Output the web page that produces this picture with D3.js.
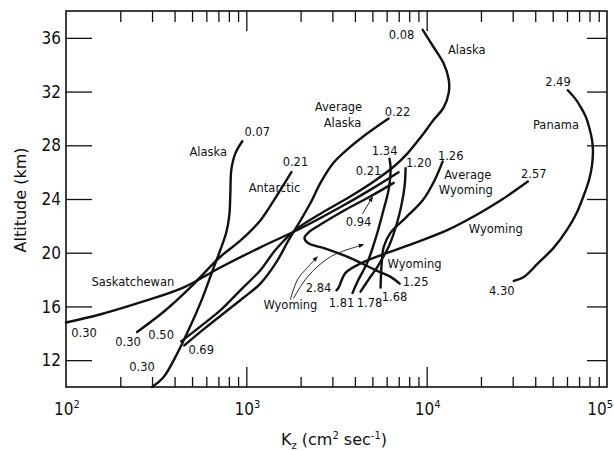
<!DOCTYPE html>
<html>
<head>
<meta charset="utf-8">
<script src="https://cdn.jsdelivr.net/npm/d3@7"></script>
<style>
body { margin: 0; background: #fff; }
text { fill: #111; }
.lbl { font-family: "DejaVu Sans", sans-serif; font-size: 11.5px; }
.num { font-family: "DejaVu Sans Condensed", "Liberation Sans Narrow", sans-serif; font-size: 17px; }
.title { font-family: "DejaVu Sans", sans-serif; font-size: 16px; }
</style>
</head>
<body>
<svg id="chart" width="614" height="451"></svg>
<script>
// curves: [K (cm2/s), altitude (km)]
var alaska007 = [[950,28.3],[869,27.4],[826,26.2],[815,24.3],[805,22.8],[774,21.5],[717,20.2],[647,18.6],[570,16.6],[488,14.5],[414,12.5],[346,10.7],[300,10.0]];
var antarctic = [[1778,26.0],[1468,24.2],[1196,22.4],[926,20.9],[717,19.7],[488,17.4],[355,15.7],[248,14.1]];
var saskatchewan = [[100,14.8],[154,15.4],[258,16.3],[447,17.4],[717,18.9],[1196,20.4],[1995,21.8],[3329,23.4],[4887,24.7],[6982,26.0]];
var avgAlaska = [[6152,30.0],[4699,28.9],[3785,27.9],[3043,26.7],[2577,25.2],[2268,23.7],[1995,22.4],[1710,20.9],[1468,19.3],[1196,17.7],[975,16.7],[784,15.7],[592,14.4],[453,13.1]];
var alaska008 = [[9506,36.6],[10940,35.3],[12410,34.1],[13250,32.9],[13250,31.9],[12410,30.8],[10940,29.9],[9268,28.6],[7834,27.4],[6561,26.4],[5209,25.4],[3785,24.2],[2577,22.9],[1872,21.7],[1449,20.2],[1196,18.7],[926,17.2],[717,15.7],[555,14.5],[435,13.4]];
var wyoLoop = [[6561,25.2],[4887,24.2],[3548,23.2],[2577,22.1],[2208,21.5],[2100,21.1],[2208,20.7],[2747,20.3],[3785,19.6],[5209,18.7],[6310,18.2],[7079,17.7]];
var wyo134 = [[6223,27.0],[6310,26.3],[6152,24.7],[5768,23.2],[5277,21.3],[4699,19.3],[4188,18.0],[3880,17.0]];
var wyo120 = [[7641,26.3],[7551,25.0],[7261,23.6],[6808,22.1],[6223,20.6],[5415,19.1],[4762,18.0],[4299,17.1]];
var avgWyoming = [[12270,26.8],[11070,25.4],[9506,23.9],[7641,22.6],[6310,21.5],[5768,20.4],[5623,19.1],[5550,17.4]];
var wyo257 = [[36390,25.3],[25770,23.9],[19950,23.0],[13090,21.7],[8472,20.7],[6067,20.0],[4299,19.2],[3548,18.5],[3248,17.4],[3162,17.2]];
var panama = [[60670,32.1],[67300,31.4],[71780,30.8],[76380,30.1],[79430,29.4],[82600,28.4],[83560,27.6],[82600,26.5],[79430,25.4],[74470,24.3],[68080,23.0],[59970,21.7],[50820,20.4],[41400,19.2],[34590,18.2],[30410,17.9]];
var curves = [alaska007, antarctic, saskatchewan, avgAlaska, alaska008, wyoLoop, wyo134, wyo120, avgWyoming, wyo257, panama];

// thin pointer arrows
var arrow094 = [[4406,22.9],[5012,24.15]];
var arrowWyoA = [[1755,16.5],[1923,18.0],[2183,18.9],[2477,19.7]];
var arrowWyoB = [[1826,16.6],[2183,18.2],[2929,19.7],[4467,20.6]];
var arrows = [arrow094, arrowWyoA, arrowWyoB];

// labels
var labelText = ["0.07","Alaska","0.21","Antarctic","Average","Alaska","0.22","0.08","Alaska","2.49","Panama",
  "1.34","1.20","1.26","Average","Wyoming","2.57","Wyoming","0.21","0.94","Wyoming","1.25","2.84","1.81","1.78","1.68",
  "Wyoming","Saskatchewan","0.30","0.30","0.50","0.69","0.30","4.30"];
var labelK = [1151,615,1872,1432,3243,3415,6902,7261,16680,53460,52120,
  5848,9036,13590,16900,16480,39270,24160,4762,4188,8570,8690,2512,3373,4819,6637,
  1755,235,126,221,337,562,264,26120];
var labelAlt = [29.0,27.5,26.75,24.8,30.85,29.7,30.5,36.2,35.1,32.7,29.5,
  27.6,26.7,27.2,25.8,24.7,25.9,21.8,26.1,22.3,19.2,17.8,17.4,16.25,16.3,16.7,
  16.1,17.8,14.0,13.35,13.9,12.75,11.5,17.15];

var yTicks = [12,16,20,24,28,32,36];
var xMajor = [100,1000,10000,100000];
var xMinor = [];
[100,1000,10000].forEach(function(d) { for (var i = 2; i <= 9; i++) xMinor.push(d*i); });

var svg = d3.select("#chart");
var x = d3.scaleLog().domain([100,100000]).range([66,607]);
var y = d3.scaleLinear().domain([10,38]).range([387,11]);

// ticks
function styleAxis(g) {
  g.select(".domain").remove();
  g.selectAll("line").attr("stroke","#111").attr("stroke-width",1.3);
  g.selectAll("text").remove();
}
svg.append("g").attr("transform","translate(0,387)")
  .call(d3.axisBottom(x).tickValues(xMinor).tickSize(-10)).call(styleAxis);
svg.append("g").attr("transform","translate(0,387)")
  .call(d3.axisBottom(x).tickValues([1000,10000]).tickSize(-20)).call(styleAxis);
svg.append("g").attr("transform","translate(0,11)")
  .call(d3.axisTop(x).tickValues(xMinor).tickSize(-11)).call(styleAxis);
svg.append("g").attr("transform","translate(0,11)")
  .call(d3.axisTop(x).tickValues([1000,10000]).tickSize(-20)).call(styleAxis);
svg.append("g").attr("transform","translate(66,0)")
  .call(d3.axisLeft(y).tickValues(yTicks).tickSize(-26)).call(styleAxis);
svg.append("g").attr("transform","translate(607,0)")
  .call(d3.axisRight(y).tickValues(yTicks).tickSize(-20)).call(styleAxis);

// frame
svg.append("rect").attr("x",66).attr("y",11).attr("width",541).attr("height",376)
  .attr("fill","none").attr("stroke","#111").attr("stroke-width",1.6);

// tick labels
svg.selectAll("text.ylab").data(yTicks).enter().append("text")
  .attr("class","num ylab").attr("x",61).attr("y",function(d){return y(d);})
  .attr("text-anchor","end").attr("dy","0.36em").text(function(d){return d;});

var xl = svg.selectAll("text.xlab").data(xMajor).enter().append("text")
  .attr("class","num xlab")
  .attr("x",function(d,i){return i == xMajor.length-1 ? 613 : x(d)+1;}).attr("y",415)
  .attr("text-anchor",function(d,i){return i == xMajor.length-1 ? "end" : "middle";});
xl.append("tspan").text("10");
xl.append("tspan").attr("dy",-7).attr("font-size",11).text(function(d){return Math.round(Math.log10(d));});

svg.append("text").attr("class","title").attr("transform","translate(26,200) rotate(-90)")
  .attr("text-anchor","middle").text("Altitude (km)");
var xt = svg.append("text").attr("class","title").attr("x",334).attr("y",445).attr("text-anchor","middle");
xt.append("tspan").text("K");
xt.append("tspan").attr("dy",4).attr("font-size",10).text("z");
xt.append("tspan").attr("dy",-4).text("  (cm");
xt.append("tspan").attr("dy",-6).attr("font-size",10).text("2");
xt.append("tspan").attr("dy",6).text(" sec");
xt.append("tspan").attr("dy",-6).attr("font-size",10).text("-1");
xt.append("tspan").attr("dy",6).text(")");

// curves
var line = d3.line().x(function(d){return x(d[0]);}).y(function(d){return y(d[1]);})
  .curve(d3.curveCatmullRom.alpha(0.5));
svg.selectAll("path.curve").data(curves).enter().append("path")
  .attr("class","curve").attr("d",line)
  .attr("fill","none").attr("stroke","#111").attr("stroke-width",2.4)
  .attr("stroke-linecap","round");

svg.append("defs").append("marker").attr("id","head").attr("viewBox","0 0 10 10")
  .attr("refX",9).attr("refY",5).attr("markerWidth",6).attr("markerHeight",6).attr("orient","auto")
  .append("path").attr("d","M0,1L10,5L0,9Z").attr("fill","#111");
svg.selectAll("path.arrow").data(arrows).enter().append("path")
  .attr("class","arrow").attr("d",line)
  .attr("fill","none").attr("stroke","#111").attr("stroke-width",0.9)
  .attr("marker-end","url(#head)");

// labels
svg.selectAll("text.lbl").data(labelText).enter().append("text")
  .attr("class","lbl")
  .attr("x",function(d,i){return x(labelK[i]);})
  .attr("y",function(d,i){return y(labelAlt[i]);})
  .attr("text-anchor","middle").attr("dy","0.36em")
  .text(function(d){return d;});
</script>
</body>
</html>
